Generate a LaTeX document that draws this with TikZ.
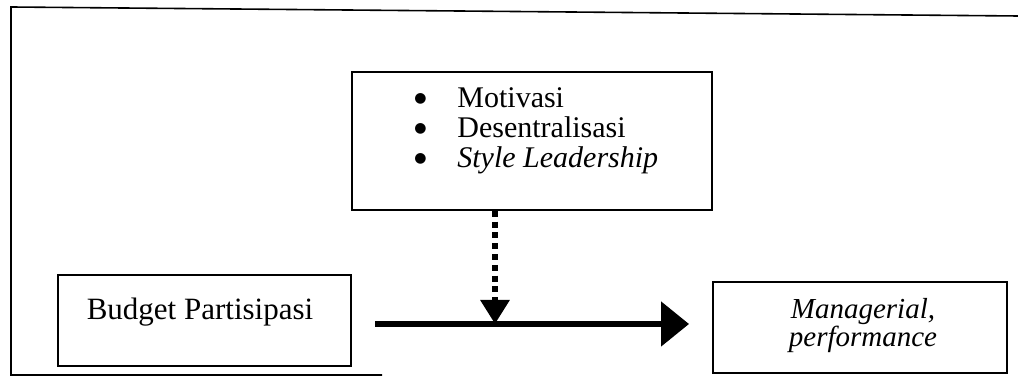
\documentclass[tikz,border=0pt]{standalone}
\usepackage{fontspec}
\setmainfont{Liberation Serif}
\newfontfamily\dejavu{DejaVu Sans}
\usetikzlibrary{arrows.meta}
\newcommand{\bigbul}{\makebox[21.5pt][l]{\raisebox{2.6pt}{\dejavu\fontsize{7pt}{7pt}\selectfont ●}}}
\begin{document}
\begin{tikzpicture}[x=0.5pt,y=-0.5pt,
  frameline/.style={line width=0.8pt},
  boxnode/.style={draw,line width=0.9pt,inner sep=0pt},
  txt/.style={inner sep=0pt},
  mainarrow/.style={line width=2.6pt,-{Triangle[length=14pt,width=22pt]}},
  dotarrow/.style={line width=3.2pt,dash pattern=on 3pt off 2.4pt,-{Triangle[length=12pt,width=14pt]}}]
\useasboundingbox (0,0) rectangle (1018,378);
% outer frame
\coordinate (fTR) at (1018,16);
\coordinate (fTL) at (11,7);
\coordinate (fBL) at (11,375);
\coordinate (fBR) at (382,375);
\draw[frameline] (fTR) -- (fTL) -- (fBL) -- (fBR);
% boxes
\node[boxnode,minimum width=180pt,minimum height=69pt] (mod) at (532,141) {};
\node[boxnode,minimum width=146.5pt,minimum height=45.5pt] (bp) at (204.5,320.5) {};
\node[boxnode,minimum width=147pt,minimum height=45.5pt] (mp) at (860,327.5) {};
% texts
\node[txt,anchor=west,align=left,font=\fontsize{15pt}{15pt}\selectfont] (modtxt) at (414,131)
  {\bigbul Motivasi\\
   \bigbul Desentralisasi\\
   \bigbul\textit{Style Leadership}};
\node[txt,font=\fontsize{15.5pt}{15.5pt}\selectfont] (bptxt) at (200,312) {Budget Partisipasi};
\node[txt,align=center,font=\fontsize{14.5pt}{14pt}\selectfont] (mptxt) at (863,326) {\textit{Managerial,}\\\textit{performance}};
% arrows
\coordinate (astart) at (375,324);
\coordinate (aend) at (689,324);
\coordinate (jn) at (495,324);
\draw[mainarrow] (astart) -- (aend);
\draw[dotarrow] (mod.south -| jn) -- (jn);
\end{tikzpicture}
\end{document}
